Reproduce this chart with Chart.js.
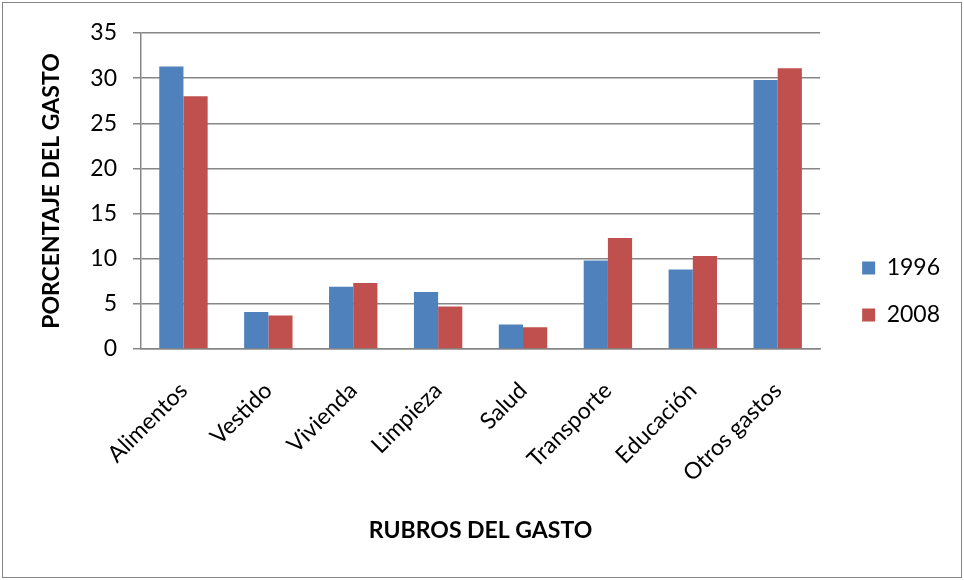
<!DOCTYPE html>
<html>
<head>
<meta charset="utf-8">
<script src="https://cdn.jsdelivr.net/npm/chart.js@4"></script>
<style>
  body { margin: 0; background: #fff; }
</style>
</head>
<body>
<canvas id="myChart" width="964" height="580"></canvas>
<script>
const rubros = ['Alimentos', 'Vestido', 'Vivienda', 'Limpieza', 'Salud', 'Transporte', 'Educación', 'Otros gastos']
const gasto1996 = [31.3, 4.1, 6.9, 6.3, 2.7, 9.8, 8.8, 29.8]
const gasto2008 = [28.0, 3.7, 7.3, 4.7, 2.4, 12.3, 10.3, 31.1]
const yTicks = [0, 5, 10, 15, 20, 25, 30, 35]

const gray = '#868686'
const fontName = 'Lato'

// thin frame round the whole chart
const frame = {
    id: 'frame',
    afterDraw(chart) {
        const ctx = chart.ctx
        ctx.save()
        ctx.strokeStyle = gray
        ctx.lineWidth = 1
        ctx.strokeRect(2.5, 2.5, 959, 575)
        ctx.restore()
    }
}

// invisible axis, only used to reserve room
const spacer = (pos, size) => ({
    type: 'linear',
    position: pos,
    axis: pos === 'top' ? 'x' : 'y',
    grid: { display: false },
    border: { display: false },
    ticks: { display: false },
    afterFit(s) {
        if (pos === 'top') s.height = size
        else s.width = size
    }
})

const chart = (labels, a, b) => {

    const ctx = document.getElementById('myChart');

    new Chart(ctx, {
        type: 'bar',
        data: {
            labels: labels,
            datasets: [{
                label: '1996',
                data: a,
                backgroundColor: '#4F81BD',
                borderWidth: 0
            }, {
                label: '2008',
                data: b,
                backgroundColor: '#C0504D',
                borderWidth: 0
            }]
        },
        options: {
            responsive: false,
            animation: false,
            categoryPercentage: 0.57,
            barPercentage: 1,
            layout: {
                padding: { top: 3, right: 14, bottom: 0, left: 0 }
            },
            plugins: {
                legend: {
                    position: 'right',
                    labels: {
                        boxWidth: 13,
                        boxHeight: 13,
                        padding: 24,
                        color: '#000',
                        font: { family: fontName, size: 23 }
                    }
                },
                tooltip: { enabled: false }
            },
            scales: {
                x: {
                    grid: { display: false },
                    border: { display: true, color: gray, width: 1.5 },
                    ticks: {
                        autoSkip: false,
                        minRotation: 45,
                        maxRotation: 45,
                        padding: 20,
                        color: '#000',
                        font: { family: fontName, size: 23 }
                    },
                    title: {
                        display: true,
                        text: 'RUBROS DEL GASTO',
                        color: '#000',
                        font: { family: fontName, size: 23, weight: 'bold' },
                        padding: { top: 0, bottom: 36 }
                    },
                    afterFit(s) { s.height = 231 }
                },
                y: {
                    min: 0,
                    max: 35,
                    afterBuildTicks(s) { s.ticks = yTicks.map(v => ({ value: v })) },
                    grid: { color: gray, lineWidth: 1.5, tickLength: 8 },
                    border: { color: gray, width: 1.5 },
                    ticks: {
                        padding: 16,
                        color: '#000',
                        font: { family: fontName, size: 23 }
                    },
                    title: {
                        display: true,
                        text: 'PORCENTAJE DEL GASTO',
                        color: '#000',
                        font: { family: fontName, size: 23, weight: 'bold' },
                        padding: { top: 38, bottom: 0 }
                    },
                    afterFit(s) { s.width = 141 }
                },
                top: spacer('top', 30),
                gap: spacer('right', 18)
            }
        },
        plugins: [frame]
    });

}

chart(rubros, gasto1996, gasto2008)
</script>
</body>
</html>
